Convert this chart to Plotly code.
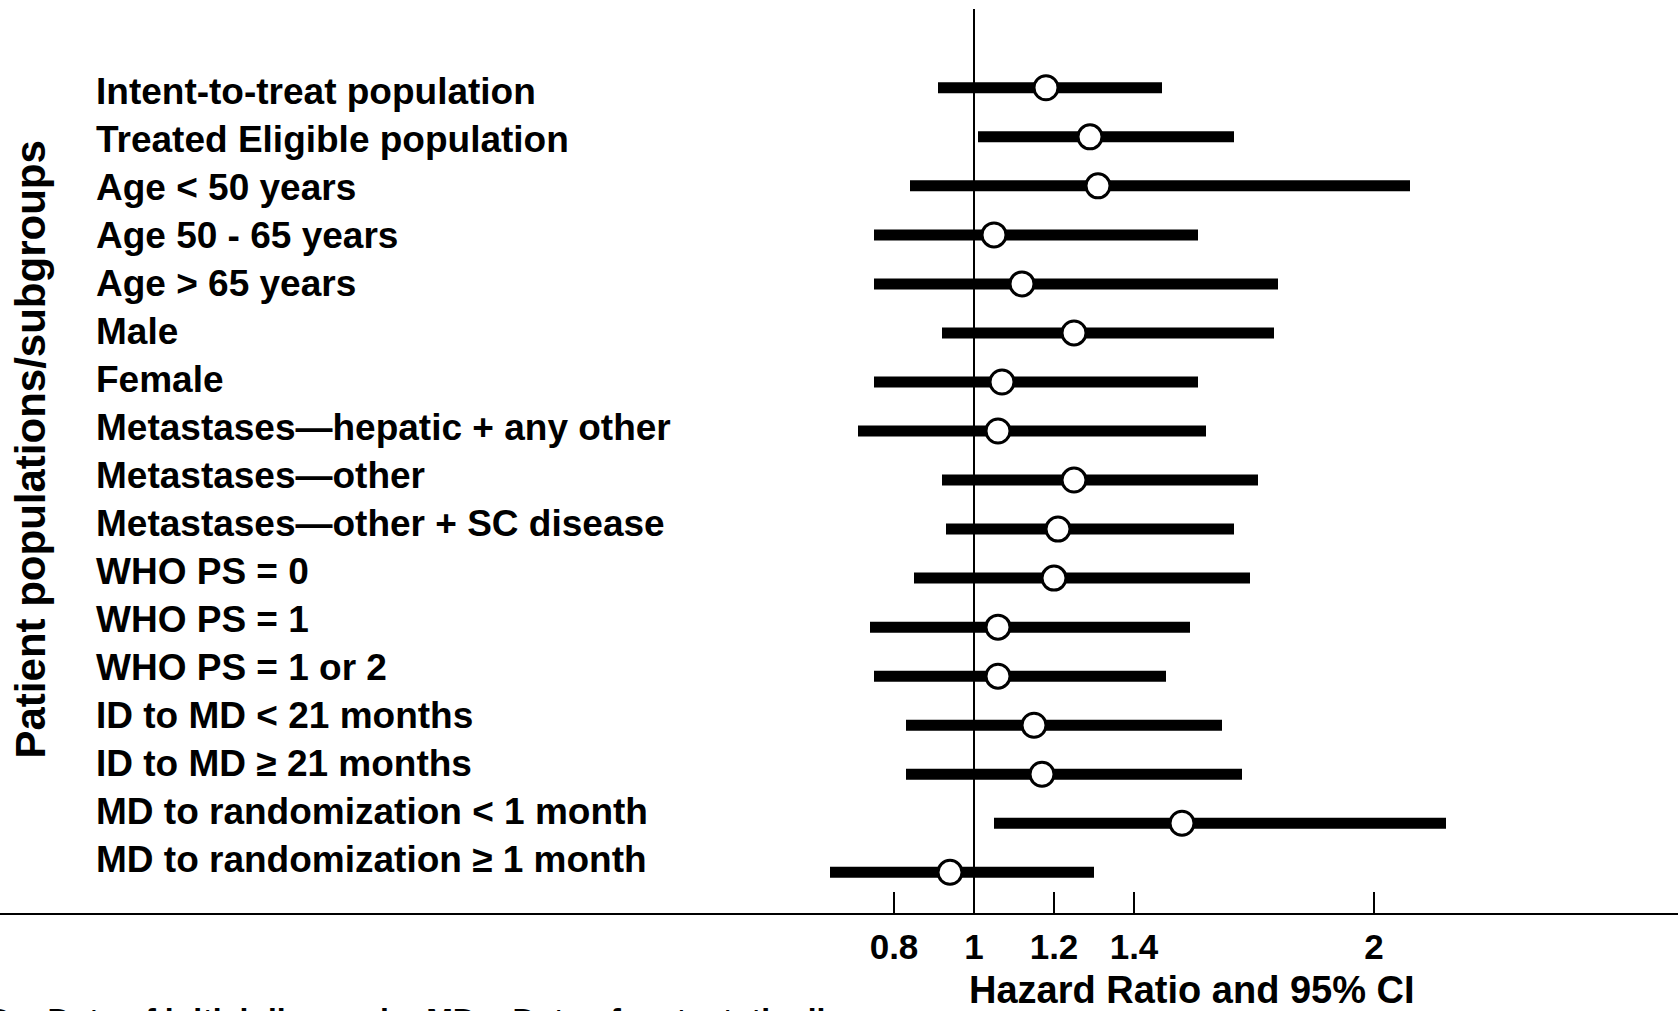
import plotly.graph_objects as go

# ---- data ----
labels = [
    "Intent-to-treat population",
    "Treated Eligible population",
    "Age < 50 years",
    "Age 50 - 65 years",
    "Age > 65 years",
    "Male",
    "Female",
    "Metastases\u2014hepatic + any other",
    "Metastases\u2014other",
    "Metastases\u2014other + SC disease",
    "WHO PS = 0",
    "WHO PS = 1",
    "WHO PS = 1 or 2",
    "ID to MD < 21 months",
    "ID to MD \u2265 21 months",
    "MD to randomization < 1 month",
    "MD to randomization \u2265 1 month",
]
hazard_ratio = [1.18, 1.29, 1.31, 1.05, 1.12, 1.25, 1.07, 1.06, 1.25, 1.21, 1.20, 1.06, 1.06, 1.15, 1.17, 1.52, 0.94]
ci_lower = [0.91, 1.01, 0.84, 0.75, 0.75, 0.92, 0.75, 0.71, 0.92, 0.93, 0.85, 0.74, 0.75, 0.83, 0.83, 1.05, 0.64]
ci_upper = [1.47, 1.65, 2.09, 1.56, 1.76, 1.75, 1.56, 1.58, 1.71, 1.65, 1.69, 1.54, 1.48, 1.62, 1.67, 2.18, 1.30]
tick_values = [0.8, 1, 1.2, 1.4, 2]
tick_labels = ["0.8", "1", "1.2", "1.4", "2"]
x_title = "Hazard Ratio and 95% CI"
y_title = "Patient populations/subgroups"
footnote = "ID = Date of initial diagnosis; MD = Date of metastatic disease"

W, H = 1678, 1011
FONT = "Arial, 'Liberation Sans', Helvetica, sans-serif"

rows = list(range(len(labels)))
err_plus = [u - h for u, h in zip(ci_upper, hazard_ratio)]
err_minus = [h - l for h, l in zip(hazard_ratio, ci_lower)]

fig = go.Figure()
fig.add_trace(go.Scatter(
    x=hazard_ratio, y=rows, mode="markers",
    marker=dict(size=24, color="white", line=dict(color="black", width=3)),
    error_x=dict(type="data", symmetric=False, array=err_plus, arrayminus=err_minus,
                 thickness=11, width=0, color="black"),
    showlegend=False, hoverinfo="skip", cliponaxis=False,
))
# invisible trace so the label axis exists
fig.add_trace(go.Scatter(x=[1] * len(rows), y=rows, yaxis="y2", mode="markers",
                         marker=dict(opacity=0), showlegend=False, hoverinfo="skip"))

def px_to_paper_y(p, top=9, bottom=913):
    return (bottom - p) / (bottom - top)

annotations = []
for i, lab in enumerate(labels):
    annotations.append(dict(
        text=lab, x=94 / W, xref="paper", xanchor="left",
        y=i, yref="y2", yanchor="middle", showarrow=False,
        font=dict(family=FONT, size=37, color="black", weight="bold"),
    ))
annotations.append(dict(
    text=y_title, x=30 / W, xref="paper", xanchor="center",
    y=px_to_paper_y(449.5), yref="paper", yanchor="middle", textangle=-90,
    showarrow=False, font=dict(family=FONT, size=42, color="black", weight="bold"),
))
annotations.append(dict(
    text=x_title, x=1192 / W, xref="paper", xanchor="center",
    y=px_to_paper_y(990), yref="paper", yanchor="middle",
    showarrow=False, font=dict(family=FONT, size=38, color="black", weight="bold"),
))
annotations.append(dict(
    text=footnote, x=-23 / W, xref="paper", xanchor="left",
    y=px_to_paper_y(1000), yref="paper", yanchor="top",
    showarrow=False, font=dict(family=FONT, size=32, color="black", weight="bold"),
))

fig.update_layout(
    width=W, height=H, autosize=False,
    margin=dict(l=0, r=0, t=9, b=98, pad=0),
    paper_bgcolor="white", plot_bgcolor="white",
    xaxis=dict(
        range=[-1.435, 2.76], tickmode="array", tickvals=tick_values, ticktext=tick_labels,
        ticks="inside", ticklen=21, tickwidth=2, tickcolor="black",
        showline=True, linewidth=2, linecolor="black", mirror=False,
        showgrid=False, zeroline=False, ticklabelstandoff=2,
        tickfont=dict(family=FONT, size=35, color="black", weight="bold"),
    ),
    yaxis=dict(range=[16.830, -1.607], visible=False, showgrid=False, zeroline=False),
    yaxis2=dict(range=[17.119, -1.715], overlaying="y", visible=False,
                showgrid=False, zeroline=False),
    shapes=[dict(type="line", xref="x", yref="paper", x0=1, x1=1, y0=0, y1=1,
                 line=dict(color="black", width=2), layer="below")],
    annotations=annotations,
)

fig.write_html("out.html")
